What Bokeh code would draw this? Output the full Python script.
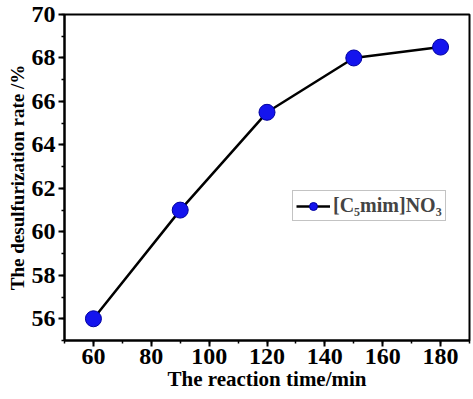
from bokeh.plotting import figure
from bokeh.models import Range1d, FixedTicker, Legend, LegendItem
from bokeh.embed import file_html
from bokeh.resources import INLINE

time_min = [60, 90, 120, 150, 180]
desulf_rate = [56.0, 61.0, 65.5, 68.0, 68.5]
x_ticks = [60, 80, 100, 120, 140, 160, 180]
y_ticks = [56, 58, 60, 62, 64, 66, 68, 70]
series_label = "[C\u2085mim]NO\u2083"

FONT = "Liberation Serif"

p = figure(width=473, height=399, output_backend="svg", toolbar_location=None,
           x_range=Range1d(50, 190), y_range=Range1d(55, 70),
           min_border_left=64, min_border_right=4, min_border_top=14, min_border_bottom=59)

p.grid.visible = False
p.outline_line_color = "black"
p.outline_line_width = 2
p.background_fill_color = "white"

for ax in (p.xaxis[0], p.yaxis[0]):
    ax.axis_line_width = 2
    ax.axis_line_color = "black"
    ax.major_tick_line_width = 2
    ax.minor_tick_line_width = 1.5
    ax.major_tick_out = 6
    ax.major_tick_in = 0
    ax.minor_tick_out = 3
    ax.minor_tick_in = 0
    ax.major_label_text_font = FONT
    ax.major_label_text_font_style = "bold"
    ax.major_label_text_font_size = "24px"
    ax.major_label_text_color = "black"
    ax.axis_label_text_font = FONT
    ax.axis_label_text_font_style = "bold"
    ax.axis_label_text_color = "black"

p.xaxis.axis_label_text_font_size = "21px"
p.yaxis.axis_label_text_font_size = "19px"
p.xaxis.ticker = FixedTicker(ticks=x_ticks, minor_ticks=list(range(50, 191, 10)))
p.yaxis.ticker = FixedTicker(ticks=y_ticks, minor_ticks=list(range(55, 71, 1)))
p.xaxis.axis_label = "The reaction time/min"
p.yaxis.axis_label = "The desulfurization rate /%"
p.xaxis.major_label_standoff = 2
p.xaxis.axis_label_standoff = 0
p.yaxis.major_label_standoff = 3
p.yaxis.axis_label_standoff = 1

ln = p.line(time_min, desulf_rate, line_color="black", line_width=2.5)
pts = p.scatter(time_min, desulf_rate, size=16, fill_color="#1414ee", line_color="#0000a0", line_width=1)

legend = Legend(items=[LegendItem(label=series_label, renderers=[ln, pts])],
                location=(228, 119), label_text_font=FONT, label_text_font_style="bold",
                label_text_font_size="20px", border_line_color="#888888", border_line_width=1,
                glyph_width=34, padding=3, spacing=0, margin=0, label_standoff=3)
p.add_layout(legend, "center")

open("out.html", "w").write(file_html(p, INLINE))
